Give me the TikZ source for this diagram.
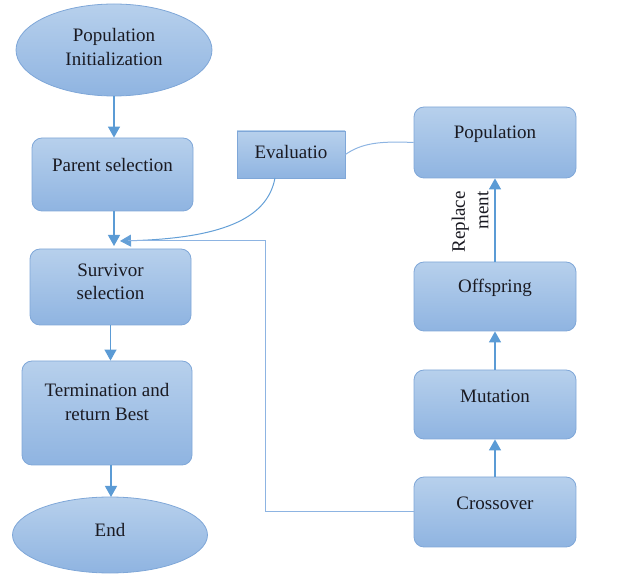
\documentclass[tikz,border=0pt]{standalone}
\usepackage{fontspec}
\setmainfont{Liberation Serif}
\usetikzlibrary{shapes.geometric,arrows.meta}

\definecolor{boxtop}{HTML}{B7D0EC}
\definecolor{boxbot}{HTML}{8FB4E1}
\definecolor{boxline}{HTML}{7FA7D8}
\definecolor{arrowblue}{HTML}{5B9BD5}
\definecolor{linkblue}{HTML}{8DB4E2}
\definecolor{inktext}{HTML}{1A1A22}

\tikzset{
  stage/.style={draw=boxline, line width=0.8pt, rounded corners=10pt,
    top color=boxtop, bottom color=boxbot},
  plainbox/.style={draw=boxline, line width=0.8pt,
    top color=boxtop, bottom color=boxbot},
  terminal/.style={ellipse, draw=boxline, line width=0.8pt,
    top color=boxtop, bottom color=boxbot, inner sep=0pt},
  label text/.style={text=inktext, align=center, inner sep=0pt,
    font=\fontsize{19}{23.5}\selectfont},
  flow/.style={draw=arrowblue, line width=1.2pt,
    -{Triangle[width=12pt,length=11pt]}},
  link/.style={draw=linkblue, line width=1pt},
}

\begin{document}
\begin{tikzpicture}[x=1pt,y=-1pt]
\useasboundingbox (0,0) rectangle (638,577);

% left column
\node[terminal, minimum width=196pt, minimum height=92pt] (init) at (114,50) {};
\node[label text] (inittxt) at (114,47) {Population\\Initialization};

\node[stage, minimum width=161pt, minimum height=73pt] (parent) at (112.5,174.5) {};
\node[label text] (parenttxt) at (112.5,165) {Parent selection};

\node[stage, minimum width=161pt, minimum height=76pt] (surv) at (110.5,287) {};
\node[label text] (survtxt) at (110.5,282) {Survivor\\selection};

\node[stage, minimum width=170pt, minimum height=104pt] (term) at (107,413) {};
\node[label text] (termtxt) at (107,402) {Termination and\\return Best};

\node[terminal, minimum width=195pt, minimum height=76pt] (end) at (110,535) {};
\node[label text] (endtxt) at (110,530) {End};

% right column
\node[plainbox, minimum width=108pt, minimum height=47pt] (eval) at (291,154.5) {};
\node[label text] (evaltxt) at (291,152) {Evaluatio};

\node[stage, minimum width=162pt, minimum height=71pt] (pop) at (495,142.5) {};
\node[label text] (poptxt) at (495,134) {Population};

\node[stage, minimum width=162pt, minimum height=69pt] (off) at (495,296.5) {};
\node[label text] (offtxt) at (495,288) {Offspring};

\node[stage, minimum width=162pt, minimum height=69pt] (mut) at (495,404.5) {};
\node[label text] (muttxt) at (495,396) {Mutation};

\node[stage, minimum width=162pt, minimum height=70pt] (cross) at (495,512) {};
\node[label text] (crosstxt) at (495,503) {Crossover};

\node[label text, rotate=90, align=right] (repl) at (470,222) {Replace\\ment};

% connectors
\coordinate (entry) at (114,246);
\coordinate (evalout) at (275,178);
\coordinate (evalin) at (120,241);
\coordinate (corner) at (265,241);
\coordinate (merge) at (128,241);
\coordinate (endin) at (111,497);

\draw[flow] (init.south) -- (init.south |- parent.north);
\draw[flow] (entry |- parent.south) -- (entry);
\draw[flow] (surv.south) -- (surv.south |- term.north);
\draw[flow] (endin |- term.south) -- (endin);

\draw[flow] (cross.north) -- (mut.south);
\draw[flow] (mut.north) -- (off.south);
\draw[flow] (off.north) -- (pop.south);

\draw[link] (eval.east) .. controls (362,143) and (380,141) .. (pop.west);
\draw[link, -{Triangle[width=12pt,length=11pt]}, arrowblue!80!linkblue]
  (evalout) .. controls (268,215) and (230,238) .. (evalin);
\draw[link] (cross.west) -| (corner) -- (merge);
\end{tikzpicture}
\end{document}
